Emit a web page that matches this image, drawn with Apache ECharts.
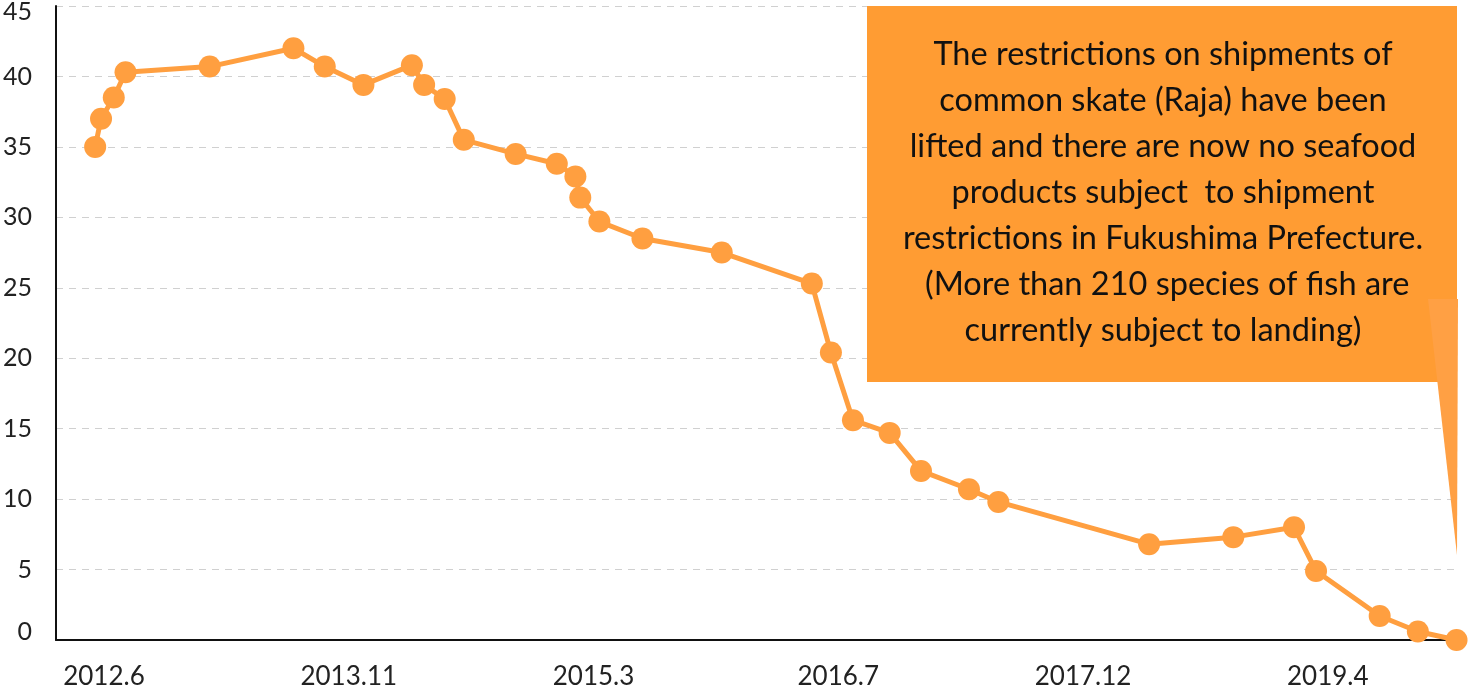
<!DOCTYPE html>
<html>
<head>
<meta charset="utf-8">
<script src="https://cdn.jsdelivr.net/npm/echarts@6/dist/echarts.min.js"></script>
<style>
  html, body { margin: 0; padding: 0; background: #fff; }
  #chart { width: 1469px; height: 691px; }
</style>
</head>
<body>
<div id="chart"></div>
<script>
// survey dates and values
var dates = ['2012-06-04', '2012-06-16', '2012-07-12', '2012-08-05', '2013-01-24', '2013-07-14',
  '2013-09-16', '2013-12-04', '2014-03-13', '2014-04-07', '2014-05-19', '2014-06-27',
  '2014-10-11', '2015-01-03', '2015-02-10', '2015-02-20', '2015-03-31', '2015-06-27',
  '2015-12-06', '2016-06-07', '2016-07-16', '2016-08-30', '2016-11-13', '2017-01-16',
  '2017-04-24', '2017-06-23', '2018-04-27', '2018-10-16', '2019-02-17', '2019-04-03',
  '2019-08-11', '2019-10-28', '2020-01-15'];
var values = [35.0, 37.0, 38.5, 40.3, 40.7, 42.0, 40.7, 39.4, 40.8, 39.4, 38.4, 35.5,
  34.5, 33.8, 32.9, 31.4, 29.7, 28.5, 27.5, 25.3, 20.4, 15.6, 14.7, 12.0,
  10.7, 9.8, 6.8, 7.3, 8.0, 4.9, 1.7, 0.6, 0];

// x tick labels (every 500 days)
var tickDates = ['2012-06-22', '2013-11-04', '2015-03-19', '2016-07-31', '2017-12-13', '2019-04-27'];
var tickLabels = ['2012.6', '2013.11', '2015.3', '2016.7', '2017.12', '2019.4'];

var noteLines = [
  'The restrictions on shipments of',
  'common skate (Raja) have been',
  'lifted and there are now no seafood',
  'products subject  to shipment',
  'restrictions in Fukushima Prefecture.',
  ' (More than 210 species of fish are',
  'currently subject to landing)'
];

var FONT = 'Lato, "Noto Sans", sans-serif';
var ORANGE = '#FF9F40';

var tickTs = tickDates.map(function (d) { return Date.parse(d); });
var seriesData = dates.map(function (d, i) { return [Date.parse(d), values[i]]; });

var chart = echarts.init(document.getElementById('chart'));

var option = {
  animation: false,
  backgroundColor: '#fff',
  grid: { left: 56, right: 11, top: 6, bottom: 51, containLabel: false, outerBoundsMode: 'none' },
  xAxis: {
    type: 'value',
    min: Date.parse('2012-03-16'),
    max: Date.parse('2020-01-18'),
    axisLine: { show: true, lineStyle: { color: '#111', width: 2 } },
    axisTick: { show: false },
    splitLine: { show: false },
    axisLabel: {
      customValues: tickTs,
      margin: 24,
      fontSize: 26,
      fontFamily: FONT,
      color: '#222',
      formatter: function (v) {
        for (var i = 0; i < tickTs.length; i++) {
          if (Math.abs(tickTs[i] - v) < 86400000) return tickLabels[i];
        }
        return '';
      }
    }
  },
  yAxis: {
    type: 'value',
    min: 0,
    max: 45,
    interval: 5,
    axisLine: { show: true, lineStyle: { color: '#111', width: 2 } },
    axisTick: { show: false },
    splitLine: { show: true, lineStyle: { color: '#d0d0d0', type: [7, 6], width: 1 } },
    axisLabel: {
      margin: 24,
      fontSize: 25,
      fontFamily: FONT,
      color: '#222',
      formatter: function (v) {
        if (v === 45) return '{top|' + v + '}';
        if (v === 0) return '{bot|' + v + '}';
        return String(v);
      },
      rich: {
        top: { padding: [12, 0, 0, 0], fontSize: 25, fontFamily: FONT, color: '#222' },
        bot: { padding: [0, 0, 16, 0], fontSize: 25, fontFamily: FONT, color: '#222' }
      }
    }
  },
  series: [{
    type: 'line',
    data: seriesData,
    clip: false,
    symbol: 'circle',
    symbolSize: 22,
    itemStyle: { color: ORANGE },
    lineStyle: { color: ORANGE, width: 5 }
  }],
  graphic: [
    {
      type: 'rect',
      z: 100,
      shape: { x: 867, y: 6, width: 590, height: 376 },
      style: { fill: '#FF9C33' }
    },
    {
      type: 'polygon',
      z: 101,
      shape: { points: [[1428, 299], [1458, 299], [1457, 555]] },
      style: { fill: '#FFA044' }
    },
    {
      type: 'text',
      z: 102,
      x: 1163,
      y: 193,
      style: {
        text: noteLines.join('\n'),
        font: '32.5px ' + FONT,
        fill: '#111',
        align: 'center',
        verticalAlign: 'middle',
        lineHeight: 46
      }
    }
  ]
};

chart.setOption(option);
</script>
</body>
</html>
